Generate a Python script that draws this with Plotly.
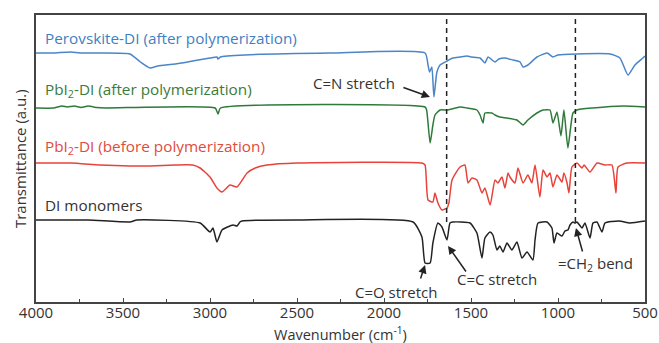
import plotly.graph_objects as go

# ---- data (wavenumber in cm-1, transmittance in arbitrary offset units) ----
blue_wn = [4000, 3902, 3800, 3747, 3632, 3460, 3400, 3345, 3300, 3200, 3100, 3000, 2960, 2954, 2940, 2800, 2310,
           1764, 1747, 1738, 1725, 1713, 1696, 1678, 1638, 1604, 1563, 1523, 1500, 1448, 1420, 1402, 1362, 1340,
           1305, 1259, 1218, 1201, 1173, 1121, 1063, 1029, 1000, 891, 701, 644, 598, 558, 512, 500]
blue_t = [249, 249, 250, 249, 249, 248, 240, 234, 236, 238, 241, 244, 245, 243, 245, 247, 249,
          249, 237, 230, 235, 205, 230, 237, 241, 244, 245, 246, 245, 244, 239, 245, 240, 243,
          244, 242, 240, 235, 237, 245, 249, 245, 247, 248, 248, 244, 227, 237, 244, 246]

green_wn = [4000, 3900, 3850, 3820, 3780, 3740, 3700, 3650, 3600, 2970, 2954, 2940,
            1764, 1755, 1735, 1719, 1707, 1678, 1638, 1563, 1523, 1466, 1448, 1431, 1420, 1380, 1362, 1334,
            1293, 1236, 1201, 1173, 1121, 1086, 1046, 1029, 1006, 983, 966, 943, 914, 891, 799, 627, 500]
green_t = [194, 194, 196, 195, 196, 194.5, 196, 194.5, 194, 194, 188, 194,
           195, 192, 159, 177, 187, 192, 192, 195, 194, 192, 187, 179, 189, 189, 187, 185,
           184, 182, 177, 182, 189, 192, 192, 179, 190, 166, 192, 154, 189, 192, 194, 196, 195]

red_wn = [4000, 3800, 3632, 3460, 3345, 3200, 3100, 3057, 3000, 2960, 2931, 2885, 2845, 2787, 2740, 2672, 2500,
          1782, 1764, 1747, 1719, 1707, 1690, 1667, 1638, 1627, 1609, 1563, 1535, 1517, 1494, 1466, 1437,
          1420, 1390, 1362, 1345, 1322, 1305, 1287, 1276, 1247, 1230, 1201, 1173, 1150, 1132, 1104, 1086,
          1063, 1046, 1029, 1006, 977, 966, 948, 937, 920, 891, 862, 850, 816, 776, 730, 690, 667, 655, 604, 500]
red_t = [139, 139, 137, 136, 136, 137, 137, 134, 125, 114, 110, 117, 115, 129, 134, 137, 139,
         139, 137, 102, 100, 109, 99, 92, 94, 99, 122, 135, 137, 119, 124, 122, 109,
         114, 97, 122, 119, 125, 114, 129, 125, 119, 134, 119, 127, 119, 137, 105, 132,
         125, 129, 115, 127, 120, 129, 119, 109, 135, 139, 134, 137, 130, 139, 137, 137, 109, 135, 139, 139]

black_wn = [4000, 3700, 3460, 3420, 3057, 3000, 2983, 2960, 2931, 2868, 2845, 2828, 2816, 2500,
            1833, 1782, 1764, 1735, 1719, 1690, 1667, 1638, 1621, 1604, 1506, 1466, 1437, 1420, 1391, 1374,
            1351, 1334, 1316, 1293, 1265, 1236, 1207, 1178, 1144, 1132, 1115, 1063, 1035, 1023, 1006, 977,
            960, 943, 931, 914, 902, 891, 862, 845, 816, 799, 776, 747, 730, 650, 586, 500]
black_t = [82, 82, 80, 82, 79, 70, 74, 60, 72, 77, 76, 80, 81, 82,
           80, 65, 39, 39, 59, 79, 75, 62, 79, 80, 79, 69, 44, 64, 70, 67,
           52, 56, 50, 59, 52, 60, 44, 50, 42, 62, 79, 80, 74, 59, 69, 66,
           71, 72, 77, 80, 79, 80, 74, 79, 64, 79, 80, 70, 79, 81, 79, 81]

series_names = ["Perovskite-DI (after polymerization)", "PbI<sub>2</sub>-DI (after polymerization)",
                "PbI<sub>2</sub>-DI (before polymerization)", "DI monomers"]
series_wn = [blue_wn, green_wn, red_wn, black_wn]
series_t = [blue_t, green_t, red_t, black_t]
line_colors = ["#4a86c8", "#2e7a3a", "#e8433a", "#222222"]
label_colors = ["#3f7fc4", "#3b7b3b", "#e24a3c", "#333333"]
label_t = [264, 212, 155, 97]

dash_wn = [1640, 900]

peak_labels = ["C=N stretch", "C=O stretch", "C=C stretch", "=CH<sub>2</sub> bend"]
peak_label_wn = [2173, 1931, 1351, 787]
peak_label_t = [219, 10, 23, 38]
arrow_head_wn = [1736, 1764, 1632, 897]
arrow_head_t = [205, 37, 56, 74]
arrow_dx = [-28, -5, 19, 7]
arrow_dy = [-10, 15, 27, 25]

FONT = "Open Sans, Segoe UI, Arial, sans-serif"

fig = go.Figure()
for wn, t, c in zip(series_wn, series_t, line_colors):
    fig.add_trace(go.Scatter(x=wn, y=t, mode="lines",
                             line=dict(color=c, width=1.5, shape="spline", smoothing=0.5),
                             showlegend=False, hoverinfo="skip"))

for wn in dash_wn:
    fig.add_shape(type="line", xref="x", yref="y", x0=wn, x1=wn, y0=80, y1=287,
                  line=dict(color="#222222", width=1.5, dash="5px,4px"))

annotations = []
for name, col, ty in zip(series_names, label_colors, label_t):
    annotations.append(dict(x=3962, y=ty, xref="x", yref="y", text=name, showarrow=False,
                            xanchor="left", yanchor="middle", font=dict(size=15.3, color=col, family=FONT)))
for txt, lx, ly in zip(peak_labels, peak_label_wn, peak_label_t):
    annotations.append(dict(x=lx, y=ly, xref="x", yref="y", text=txt, showarrow=False,
                            xanchor="center", yanchor="middle", font=dict(size=15, color="#333333", family=FONT)))
for hx, hy, dx, dy in zip(arrow_head_wn, arrow_head_t, arrow_dx, arrow_dy):
    annotations.append(dict(x=hx, y=hy, xref="x", yref="y", text="", showarrow=True,
                            ax=dx, ay=dy, arrowhead=2, arrowsize=1.1, arrowwidth=1.5,
                            arrowcolor="#222222", standoff=0))
annotations.append(dict(x=-0.027, y=0.5, xref="paper", yref="paper", text="Transmittance (a.u.)",
                        xanchor="center", yanchor="middle",
                        showarrow=False, textangle=-90, font=dict(size=15, color="#333333", family=FONT)))
annotations.append(dict(x=0.5, y=-0.11, xref="paper", yref="paper", text="Wavenumber (cm<sup>-1</sup>)",
                        xanchor="center", yanchor="middle",
                        showarrow=False, font=dict(size=14.5, color="#333333", family=FONT)))

fig.update_layout(
    width=659, height=343,
    margin=dict(l=36, r=14, t=15, b=41),
    paper_bgcolor="white", plot_bgcolor="white",
    annotations=annotations,
    xaxis=dict(range=[4000, 500], tick0=500, dtick=500, ticks="inside", ticklen=4, tickwidth=1.2,
               tickcolor="#444444", showline=True, linecolor="#444444", linewidth=1.5, mirror=True,
               showgrid=False, zeroline=False, automargin=False, ticklabelstandoff=-4,
               tickfont=dict(size=15, color="#333333", family=FONT),
               minor=dict(ticks="inside", dtick=250, tick0=500, ticklen=3, tickcolor="#444444")),
    yaxis=dict(range=[0, 287], showticklabels=False, ticks="", showline=True, linecolor="#444444",
               linewidth=1.5, mirror=True, showgrid=False, zeroline=False, automargin=False),
)

fig.write_html("out.html")
